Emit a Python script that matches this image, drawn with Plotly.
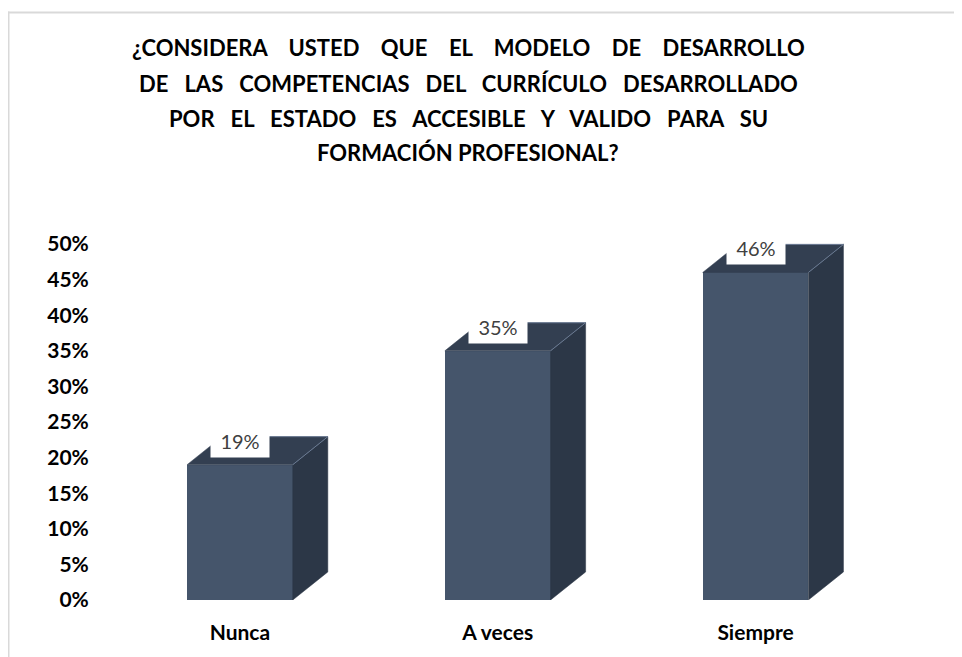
import plotly.graph_objects as go

# ---------------- data ----------------
categories = ["Nunca", "A veces", "Siempre"]
values = [19, 35, 46]                       # percent
value_labels = ["19%", "35%", "46%"]
tick_values = [0, 5, 10, 15, 20, 25, 30, 35, 40, 45, 50]
tick_labels = ["0%", "5%", "10%", "15%", "20%", "25%", "30%", "35%", "40%", "45%", "50%"]
title_lines = [
    "¿CONSIDERA USTED QUE EL MODELO DE DESARROLLO",
    "DE LAS COMPETENCIAS DEL CURRÍCULO DESARROLLADO",
    "POR EL ESTADO ES ACCESIBLE Y VALIDO PARA SU",
    "FORMACIÓN PROFESIONAL?",
]

# ---------------- layout geometry ----------------
OFF = 8                       # page body margin of the generated html
W, H = 962 - OFF, 657 - OFF   # figure size so that it fits the window
ML, MR, MT, MB = 103, 26, 222, 57
PW, PH = W - ML - MR, H - MT - MB
XR = [-0.5, 2.7]
YR = [0, PH / 7.12]

def page_x(px):               # page pixel -> paper x
    return (px - OFF - ML) / PW

def page_y(py):               # page pixel -> paper y
    return (H - MB - (py - OFF)) / PH

# 3D bar appearance
BW = 0.41        # front width (category units)
DX = 0.136       # depth offset x (category units)
DY = 3.94        # depth offset y (value units)
FRONT = "#45556b"
SIDE = "#2c3747"
TOP = "#333f51"
EDGE = "#6a7a92"

fig = go.Figure()
xs = list(range(len(categories)))

# side and top faces
for i, v in zip(xs, values):
    xl, xr = i - BW / 2, i + BW / 2
    fig.add_trace(go.Scatter(
        x=[xr, xr + DX, xr + DX, xr, xr],
        y=[0, DY, v + DY, v, 0],
        fill="toself", fillcolor=SIDE, mode="lines",
        line=dict(color=SIDE, width=0.5), hoverinfo="skip", showlegend=False))
    fig.add_trace(go.Scatter(
        x=[xl, xl + DX, xr + DX, xr, xl],
        y=[v, v + DY, v + DY, v, v],
        fill="toself", fillcolor=TOP, mode="lines",
        line=dict(color=TOP, width=0.5), hoverinfo="skip", showlegend=False))
    fig.add_trace(go.Scatter(
        x=[xl + DX, xr + DX, xr],
        y=[v + DY, v + DY, v],
        mode="lines", line=dict(color=EDGE, width=1),
        hoverinfo="skip", showlegend=False))

# front faces
fig.add_trace(go.Bar(
    x=xs, y=values, width=BW, marker=dict(color=FRONT, line=dict(width=0)),
    hoverinfo="skip", showlegend=False))

# value labels in white boxes
for i, v, lab in zip(xs, values, value_labels):
    fig.add_annotation(
        x=i, y=v + 1.0, text=lab, showarrow=False,
        font=dict(family="Lato", size=20, color="#404040"),
        bgcolor="white", width=56, height=30, borderpad=1,
        xanchor="center", yanchor="bottom")

# title lines (justified look: widened word gaps)
gap_extra = [3, 2, 2, 0]
title_y = [48, 83, 118, 153]
for line, ty, g in zip(title_lines, title_y, gap_extra):
    txt = line.replace(" ", " " + "\u00a0" * g)
    fig.add_annotation(
        x=page_x(468), y=page_y(ty), xref="paper", yref="paper",
        text="<b>" + txt + "</b>", showarrow=False,
        font=dict(family="Lato", size=22, color="#000000"),
        xanchor="center", yanchor="middle")

# outer frame lines (top and left)
fig.add_shape(type="line", xref="paper", yref="paper",
              x0=page_x(OFF), x1=page_x(W + OFF + 5),
              y0=page_y(12.5), y1=page_y(12.5),
              line=dict(color="#d9d9d9", width=2))
fig.add_shape(type="line", xref="paper", yref="paper",
              x0=page_x(OFF + 0.5), x1=page_x(OFF + 0.5),
              y0=page_y(11.5), y1=page_y(H + OFF + 5),
              line=dict(color="#d9d9d9", width=2))

fig.update_layout(
    width=W, height=H,
    margin=dict(l=ML, r=MR, t=MT, b=MB, pad=0),
    paper_bgcolor="white", plot_bgcolor="white",
    bargap=0,
    xaxis=dict(range=XR, tickvals=xs, ticktext=["<b>%s</b>" % c for c in categories],
               showgrid=False, zeroline=False, showline=False,
               ticks="outside", ticklen=14, tickcolor="rgba(0,0,0,0)",
               tickfont=dict(family="Lato", size=21, color="#000000"),
               fixedrange=True),
    yaxis=dict(range=YR, tickvals=tick_values, ticktext=["<b>%s</b>" % t for t in tick_labels],
               showgrid=False, zeroline=False, showline=False,
               ticks="outside", ticklen=17, tickcolor="rgba(0,0,0,0)",
               tickfont=dict(family="Lato", size=21, color="#000000"),
               fixedrange=True),
)

fig.write_html("out.html")
